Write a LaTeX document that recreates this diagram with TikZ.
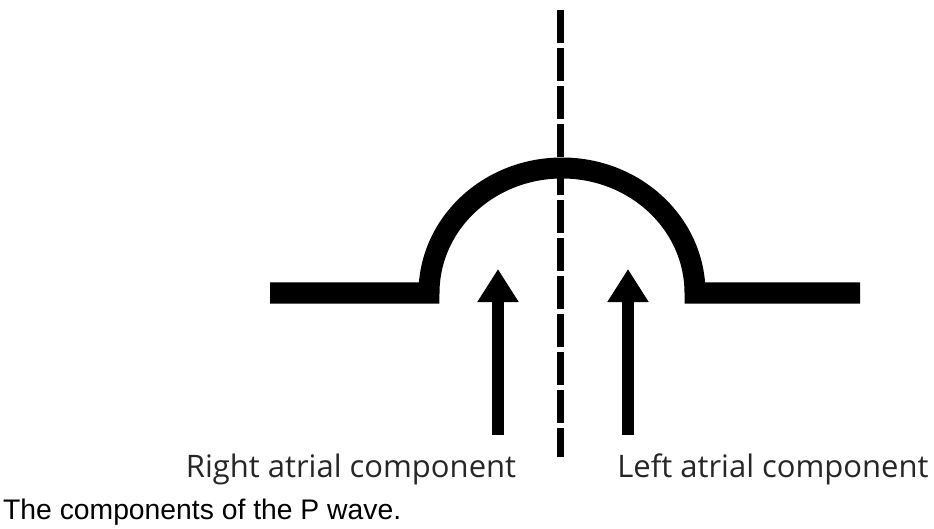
\documentclass[tikz,border=0pt]{standalone}
\usepackage{fontspec}
\setmainfont{Liberation Sans}
\newfontfamily\labelfont{Open Sans}
\usepackage{tikz}
\usetikzlibrary{arrows.meta, positioning}
\tikzstyle{wave} = [line width=21pt, line join=miter, line cap=butt]
\tikzstyle{axis} = [line width=7pt, dash pattern=on 33pt off 5pt]
\tikzstyle{arrow} = [line width=12pt, -{Triangle[width=39pt, length=33pt]}]
\tikzstyle{label} = [anchor=base, inner sep=0pt, text=black!85, font=\labelfont\fontsize{31}{36}\selectfont]

\begin{document}
\begin{tikzpicture}[x=1pt, y=-1pt]
    \useasboundingbox (0,0) rectangle (934,529);

    % P wave: baseline, hump, baseline
    \draw[wave] (270,293) -- (429,293)
        arc[start angle=180, end angle=360, x radius=133, y radius=125]
        -- (860,293);

    % Dividing line
    \draw[axis] (560,10) -- (560,457);

    % Arrows
    \coordinate (ra tail) at (498,435);
    \coordinate (ra tip) at (498,269);
    \coordinate (la tail) at (628,435);
    \coordinate (la tip) at (628,269);
    \draw[arrow] (ra tail) -- (ra tip);
    \draw[arrow] (la tail) -- (la tip);

    % Labels
    \node[label] (ra) at (351,477) {Right atrial component};
    \node[label] (la) at (773,477) {Left atrial component};
    \node[anchor=base west, inner sep=0pt, font=\fontsize{28.3}{34}\selectfont] (caption) at (3,519) {The components of the P wave.};
\end{tikzpicture}
\end{document}
